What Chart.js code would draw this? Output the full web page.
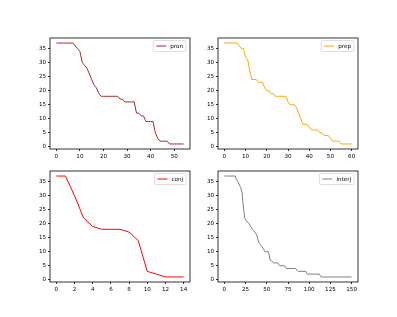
<!DOCTYPE html>
<html>
<head>
<meta charset="utf-8">
<script src="https://cdn.jsdelivr.net/npm/chart.js@4/dist/chart.umd.min.js"></script>
<style>
html,body{margin:0;padding:0;background:#fff;}
#fig{position:relative;width:397px;height:317px;background:#fff;overflow:hidden;}
canvas{position:absolute;}
</style>
</head>
<body>
<div id="fig">
<canvas id="c1" width="184" height="137" style="left:20px;top:32px;width:184px;height:137px"></canvas>
<canvas id="c2" width="184" height="137" style="left:188px;top:32px;width:184px;height:137px"></canvas>
<canvas id="c3" width="184" height="137" style="left:20px;top:165px;width:184px;height:137px"></canvas>
<canvas id="c4" width="184" height="137" style="left:188px;top:165px;width:184px;height:137px"></canvas>
</div>
<script>
// ---- data ----
const pronValues = [37,37,37,37,37,37,37,37,36,35,34,30,29,28,26,24,22,21,19,18,
  18,18,18,18,18,18,18,17,17,16,16,16,16,16,12,12,11,11,9,9,9,9,5,3,2,2,2,2,1,1,1,1,1,1,1];
const prepValues = [37,37,37,37,37,37,37,36,35,35,32,31,27,24,24,24,23,23,23,21,20,20,19,19,18,
  18,18,18,18,18,16,15,15,15,14,12,10,8,8,8,7,6,6,6,6,5,5,4,4,4,3,2,2,2,2,1,1,1,1,1,1];
const conjValues = [37,37,30,22,19,18,18,18,17,14,3,2,1,1,1];
const interjX = [0,13,14,16,19,21,22,24,26,29,31,33,36,38,41,44,46,48,52,54,55,58,63,65,71,73,84,87,96,98,112,114,150];
const interjY = [37,37,36,35,33,31,27,22,21,20,19,18,17,16,13,12,11,10,10,7,7,6,6,5,5,4,4,3,3,2,2,1,1];

const pronXTicks = [0,10,20,30,40,50];
const prepXTicks = [0,10,20,30,40,50,60];
const conjXTicks = [0,2,4,6,8,10,12,14];
const interjXTicks = [0,25,50,75,100,125,150];
const yTicks = [0,5,10,15,20,25,30,35];

const labels = ['pron','prep','conj','interj'];
const colors = ['#a52a2a','#ffa500','#ff0000','#808080'];

const FONT = 'DejaVu Sans';
const FS = 5.6;

function margins(arr){
  const mn = Math.min(...arr), mx = Math.max(...arr), r = mx - mn;
  return [mn - 0.05*r, mx + 0.05*r];
}

const framePlugin = {
  id:'frame',
  afterDraw(chart){
    const a = chart.chartArea, ctx = chart.ctx;
    ctx.save();
    ctx.strokeStyle = '#000';
    ctx.lineWidth = 0.8;
    ctx.strokeRect(a.left, a.top, a.right - a.left, a.bottom - a.top);
    // legend (upper right)
    const ds = chart.data.datasets[0];
    ctx.font = FS + 'px "' + FONT + '"';
    const tw = ctx.measureText(ds.label).width;
    const bw = 3 + 10 + 4 + tw + 3;
    const bh = 11;
    const bx = a.right - 4 - bw;
    const by = a.top + 2.5;
    const r = 1.5;
    ctx.beginPath();
    ctx.moveTo(bx + r, by);
    ctx.lineTo(bx + bw - r, by);
    ctx.quadraticCurveTo(bx + bw, by, bx + bw, by + r);
    ctx.lineTo(bx + bw, by + bh - r);
    ctx.quadraticCurveTo(bx + bw, by + bh, bx + bw - r, by + bh);
    ctx.lineTo(bx + r, by + bh);
    ctx.quadraticCurveTo(bx, by + bh, bx, by + bh - r);
    ctx.lineTo(bx, by + r);
    ctx.quadraticCurveTo(bx, by, bx + r, by);
    ctx.closePath();
    ctx.fillStyle = 'rgba(255,255,255,0.8)';
    ctx.fill();
    ctx.strokeStyle = '#d6d6d6';
    ctx.lineWidth = 0.8;
    ctx.stroke();
    ctx.beginPath();
    ctx.strokeStyle = ds.borderColor;
    ctx.lineWidth = 1;
    ctx.moveTo(bx + 3, by + bh/2);
    ctx.lineTo(bx + 13, by + bh/2);
    ctx.stroke();
    ctx.fillStyle = '#000';
    ctx.textBaseline = 'middle';
    ctx.textAlign = 'left';
    ctx.fillText(ds.label, bx + 17, by + bh/2 + 0.3);
    ctx.restore();
  }
};

function makeChart(id, xs, ys, label, color, xTicks){
  const pts = xs.map((x,i)=>({x:x, y:ys[i]}));
  const [xmin,xmax] = margins(xs);
  const [ymin,ymax] = margins(ys);
  new Chart(document.getElementById(id), {
    type:'line',
    data:{datasets:[{label:label, data:pts, borderColor:color, borderWidth:1, pointRadius:0, tension:0, fill:false}]},
    options:{
      responsive:false, animation:false, devicePixelRatio:1,
      layout:{padding:{left:0, top:6, right:14, bottom:0}},
      plugins:{legend:{display:false}, tooltip:{enabled:false}},
      scales:{
        x:{type:'linear', min:xmin, max:xmax,
          afterBuildTicks: s => { s.ticks = xTicks.map(v=>({value:v})); },
          afterFit: s => { s.height = 20; },
          border:{display:false},
          grid:{drawOnChartArea:false, drawTicks:true, tickLength:2, tickColor:'#000', lineWidth:0.8},
          ticks:{autoSkip:false, maxRotation:0, minRotation:0, padding:2, color:'#000', font:{family:FONT, size:FS}}
        },
        y:{type:'linear', min:ymin, max:ymax,
          afterBuildTicks: s => { s.ticks = yTicks.map(v=>({value:v})); },
          afterFit: s => { s.width = 30; },
          border:{display:false},
          grid:{drawOnChartArea:false, drawTicks:true, tickLength:2, tickColor:'#000', lineWidth:0.8},
          ticks:{autoSkip:false, padding:2, color:'#000', font:{family:FONT, size:FS}}
        }
      }
    },
    plugins:[framePlugin]
  });
}

makeChart('c1', pronValues.map((v,i)=>i), pronValues, labels[0], colors[0], pronXTicks);
makeChart('c2', prepValues.map((v,i)=>i), prepValues, labels[1], colors[1], prepXTicks);
makeChart('c3', conjValues.map((v,i)=>i), conjValues, labels[2], colors[2], conjXTicks);
makeChart('c4', interjX, interjY, labels[3], colors[3], interjXTicks);
</script>
</body>
</html>
